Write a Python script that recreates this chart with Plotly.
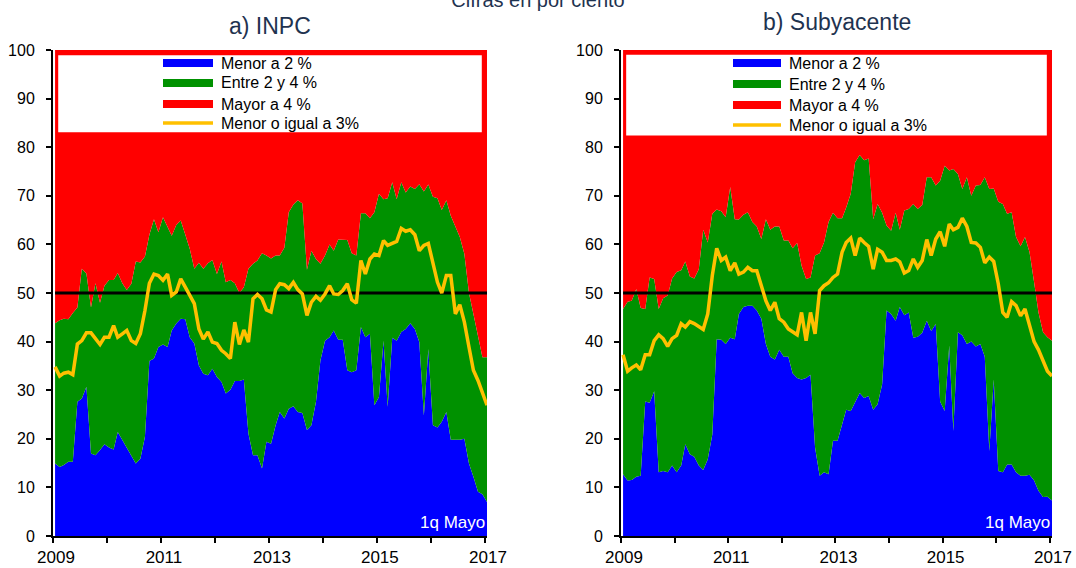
import plotly.graph_objects as go

# ---------------- data (monthly, Jan 2009 - Jan 2017) ----------------
n_months = 97
fechas = [f"{2009 + m // 12}-{m % 12 + 1:02d}-15" for m in range(n_months)]

# a) INPC
inpc_menor2 = [14.9, 14.2, 14.6, 15.3, 15.3, 27.6, 28.3, 30.7, 17.0, 16.6, 17.7, 18.9, 18.2, 17.8, 21.4, 19.7,
               18.0, 16.6, 14.9, 15.9, 20.4, 36.0, 36.5, 38.9, 39.4, 38.9, 42.3, 43.7, 44.7, 44.6, 40.9, 39.6,
               35.1, 33.4, 33.1, 34.4, 32.7, 31.7, 29.3, 30.1, 31.9, 31.9, 32.2, 21.1, 16.6, 16.6, 13.9, 19.4,
               19.0, 22.8, 25.5, 24.2, 26.2, 26.7, 25.5, 25.3, 21.8, 22.8, 27.6, 36.1, 40.2, 40.9, 42.3, 40.4,
               40.4, 34.1, 33.7, 34.1, 43.0, 40.9, 41.6, 26.9, 28.6, 40.2, 26.6, 40.8, 40.2, 42.0, 42.6, 43.8,
               42.6, 39.9, 24.8, 38.5, 22.8, 22.3, 23.5, 25.5, 19.8, 19.8, 19.8, 20.0, 14.9, 12.2, 9.1, 8.6, 7.0]
inpc_hasta4 = [43.8, 44.4, 44.7, 44.6, 45.9, 47.0, 55.0, 54.0, 47.0, 52.0, 48.0, 51.5, 52.7, 52.7, 54.1, 52.0,
               50.6, 51.9, 56.5, 56.3, 57.5, 62.0, 65.2, 62.5, 65.6, 63.4, 61.8, 64.0, 64.9, 62.0, 59.1, 55.0,
               56.2, 55.0, 56.1, 56.8, 53.9, 56.5, 52.2, 52.7, 52.0, 50.0, 51.2, 55.0, 56.0, 56.7, 58.2, 57.7,
               57.1, 57.7, 57.7, 59.3, 66.6, 68.2, 69.1, 68.4, 54.8, 58.7, 57.0, 56.0, 57.7, 60.0, 58.7, 61.0,
               60.9, 60.9, 58.2, 57.7, 66.4, 66.4, 65.4, 66.6, 70.4, 69.3, 69.5, 72.8, 69.3, 72.8, 70.7, 71.9,
               71.4, 72.4, 70.9, 72.3, 69.8, 69.5, 67.1, 69.1, 65.9, 63.5, 61.5, 58.0, 50.0, 45.7, 40.9, 36.8, 36.8]
inpc_hasta3 = [34.8, 32.9, 33.5, 33.7, 33.2, 39.5, 40.2, 41.8, 41.8, 40.6, 39.4, 40.9, 40.9, 43.3, 40.9, 41.6,
               42.3, 40.2, 39.6, 41.6, 46.4, 52.0, 53.9, 53.6, 52.6, 53.9, 49.5, 50.2, 52.9, 51.2, 49.5, 47.8,
               42.6, 40.5, 42.0, 39.9, 39.6, 38.2, 37.5, 36.5, 44.0, 39.4, 42.4, 39.9, 48.8, 49.7, 48.8, 46.5,
               46.1, 50.7, 51.9, 51.7, 50.9, 52.2, 50.7, 49.8, 45.4, 48.1, 49.3, 48.5, 49.8, 51.5, 49.8, 49.7,
               50.5, 51.9, 48.6, 47.9, 56.7, 53.9, 57.0, 58.0, 57.7, 60.8, 59.8, 60.2, 60.6, 63.3, 62.7, 63.0,
               62.0, 58.7, 59.8, 60.2, 56.3, 52.2, 50.0, 53.6, 53.6, 45.7, 47.6, 44.0, 38.9, 34.1, 32.0, 29.6, 26.9]

# b) Subyacente
sub_menor2 = [12.7, 11.4, 11.5, 12.2, 12.4, 27.7, 27.4, 29.8, 13.1, 13.4, 13.1, 14.5, 13.1, 14.5, 18.9, 16.8,
              16.3, 14.5, 13.6, 15.8, 20.9, 40.5, 40.4, 39.5, 40.8, 40.5, 45.7, 47.1, 47.4, 47.4, 46.4, 44.7,
              39.5, 36.9, 36.3, 38.3, 36.9, 36.9, 33.5, 32.5, 32.2, 32.5, 33.2, 18.2, 12.4, 13.1, 12.7, 19.6,
              19.6, 23.0, 26.0, 25.7, 27.4, 29.4, 28.4, 28.8, 26.0, 27.1, 31.2, 46.4, 45.7, 44.3, 47.1, 45.4,
              46.0, 40.8, 41.0, 41.8, 44.3, 42.2, 43.6, 27.7, 25.7, 39.2, 21.6, 41.9, 41.3, 39.5, 40.0, 39.0,
              39.5, 36.9, 17.5, 32.2, 13.4, 13.1, 14.7, 14.7, 13.1, 12.4, 12.4, 12.6, 11.4, 9.3, 8.0, 8.1, 7.3]
sub_hasta4 = [46.7, 48.2, 48.4, 50.8, 46.9, 46.7, 53.2, 52.9, 46.7, 48.9, 49.5, 53.0, 54.3, 54.7, 56.5, 53.4,
              53.0, 54.9, 63.0, 60.4, 66.3, 67.2, 66.8, 65.6, 71.8, 65.2, 65.1, 66.1, 66.6, 64.6, 63.7, 61.1,
              65.2, 63.0, 63.7, 63.7, 60.8, 60.8, 59.2, 60.3, 55.6, 52.9, 53.2, 57.7, 58.2, 60.4, 64.6, 66.5,
              65.4, 65.4, 67.6, 70.4, 76.9, 78.4, 77.3, 77.7, 65.2, 68.3, 66.5, 63.9, 62.8, 66.5, 63.0, 67.0,
              67.3, 68.3, 67.3, 68.1, 73.8, 73.8, 72.1, 73.1, 76.2, 75.2, 75.5, 74.5, 71.4, 73.8, 70.0, 72.1,
              72.2, 73.8, 71.4, 71.5, 68.8, 68.3, 66.3, 66.6, 61.5, 59.6, 61.5, 58.4, 52.2, 46.0, 41.9, 40.9, 40.2]
sub_hasta3 = [37.3, 33.9, 34.6, 35.2, 34.2, 37.3, 37.3, 40.2, 41.4, 40.6, 39.0, 40.6, 41.3, 43.7, 43.0, 44.1,
              43.7, 43.0, 42.5, 45.7, 53.6, 59.2, 56.7, 57.4, 54.6, 56.2, 53.9, 54.3, 55.3, 54.6, 54.6, 51.5,
              48.4, 46.4, 48.1, 44.7, 44.0, 42.6, 42.1, 41.4, 46.0, 40.2, 46.0, 41.6, 50.5, 51.5, 52.1, 53.2,
              53.9, 58.4, 60.4, 61.3, 57.7, 61.3, 60.4, 59.6, 54.9, 59.0, 58.4, 56.7, 56.7, 57.0, 56.4, 54.1,
              54.6, 57.0, 55.3, 56.7, 61.0, 57.7, 61.1, 62.6, 59.6, 64.2, 63.0, 63.5, 65.4, 63.7, 60.4, 60.3,
              59.4, 56.2, 57.4, 56.5, 51.9, 46.0, 45.0, 48.2, 47.4, 45.3, 46.7, 43.0, 40.0, 38.3, 35.9, 33.9, 32.9]

total_pct = 100
linea_ref = 50

etiquetas = ["Menor a 2 %", "Entre 2 y 4 %", "Mayor a 4 %", "Menor o igual a 3%"]
titulos = ["a) INPC", "b) Subyacente"]
anios = list(range(2009, 2018))
tick_text = [str(a) if a % 2 == 1 else "" for a in anios]

AZUL, VERDE, ROJO, AMARILLO = "#0000ff", "#009100", "#ff0000", "#ffc000"
colores = [AZUL, VERDE, ROJO, AMARILLO]
FONT = "Liberation Sans, Arial, sans-serif"
NAVY = "#1f3350"

W, H = 1076, 568
ml, mr, mt, mb = 53, 24, 50, 32
pw, ph = W - ml - mr, H - mt - mb


def pxx(p):  # pixel x -> paper x
    return (p - ml) / pw


def pxy(p):  # pixel y (from top) -> paper y
    return (H - mb - p) / ph


fig = go.Figure()

paneles = [(inpc_menor2, inpc_hasta4, inpc_hasta3, "x", "y"),
           (sub_menor2, sub_hasta4, sub_hasta3, "x2", "y2")]

for menor2, hasta4, hasta3, xa, ya in paneles:
    fig.add_trace(go.Scatter(x=fechas, y=menor2, name=etiquetas[0], mode="lines", line=dict(width=0, color=AZUL),
                             fill="tozeroy", fillcolor=AZUL, xaxis=xa, yaxis=ya, showlegend=False))
    fig.add_trace(go.Scatter(x=fechas, y=hasta4, name=etiquetas[1], mode="lines", line=dict(width=0, color=VERDE),
                             fill="tonexty", fillcolor=VERDE, xaxis=xa, yaxis=ya, showlegend=False))
    fig.add_trace(go.Scatter(x=fechas, y=[total_pct] * len(fechas), name=etiquetas[2], mode="lines",
                             line=dict(width=0, color=ROJO), fill="tonexty", fillcolor=ROJO,
                             xaxis=xa, yaxis=ya, showlegend=False))
    fig.add_trace(go.Scatter(x=[fechas[0], fechas[-1]], y=[linea_ref, linea_ref], mode="lines",
                             line=dict(width=3, color="black"), showlegend=False, hoverinfo="skip",
                             xaxis=xa, yaxis=ya))
    fig.add_trace(go.Scatter(x=fechas, y=hasta3, name=etiquetas[3], mode="lines",
                             line=dict(width=3.5, color=AMARILLO), xaxis=xa, yaxis=ya, showlegend=False))

xcommon = dict(type="date", range=["2009-01-01", "2017-01-15"],
               tickvals=[f"{a}-01-01" for a in anios], ticktext=tick_text,
               ticks="outside", ticklen=5, tickwidth=1.5, tickcolor="black",
               showline=True, linecolor="black", linewidth=2, showgrid=False, zeroline=False,
               tickfont=dict(family=FONT, size=17, color="black"), fixedrange=True, automargin=False,
               ticklabelshift=3)
ycommon = dict(range=[0, 100], dtick=10, tick0=0, ticks="outside", ticklen=5, tickwidth=1.5,
               tickcolor="black", showline=True, linecolor="black", linewidth=2, showgrid=False,
               zeroline=False, tickfont=dict(family=FONT, size=16, color="black"), fixedrange=True,
               automargin=False, ticklabelstandoff=8)

# ---- legend boxes (white) and manual legend entries for each panel ----
shapes = [
    dict(type="rect", xref="x domain", yref="y", x0=0.012, x1=0.988, y0=83.1, y1=98.9,
         fillcolor="white", line=dict(width=0), layer="above"),
    dict(type="rect", xref="x2 domain", yref="y2", x0=0.012, x1=0.988, y0=82.4, y1=99.0,
         fillcolor="white", line=dict(width=0), layer="above"),
]
annotations = []
leg_specs = [(163, 213, 219, [63, 83, 104, 123]), (733, 781, 787, [63, 84, 105, 125])]
for sw0, sw1, tx, filas in leg_specs:
    for i, (lab, col, fy) in enumerate(zip(etiquetas, colores, filas)):
        if i < 3:
            shapes.append(dict(type="rect", xref="paper", yref="paper", x0=pxx(sw0), x1=pxx(sw1),
                               y0=pxy(fy + 4), y1=pxy(fy - 4), fillcolor=col, line=dict(width=0),
                               layer="above"))
        else:
            shapes.append(dict(type="line", xref="paper", yref="paper", x0=pxx(sw0), x1=pxx(sw1),
                               y0=pxy(fy), y1=pxy(fy), line=dict(color=col, width=3.5), layer="above"))
        annotations.append(dict(text=lab, xref="paper", yref="paper", x=pxx(tx), y=pxy(fy),
                                xanchor="left", yanchor="middle", showarrow=False,
                                font=dict(family=FONT, size=16, color="black")))

annotations += [
    dict(text=titulos[0], xref="x domain", yref="paper", x=0.5, y=1, yshift=9, yanchor="bottom",
         showarrow=False, font=dict(family=FONT, size=23, color=NAVY)),
    dict(text=titulos[1], xref="x2 domain", yref="paper", x=0.5, y=1, yshift=13, yanchor="bottom",
         showarrow=False, font=dict(family=FONT, size=23, color=NAVY)),
    dict(text="1q Mayo", xref="x domain", yref="y domain", x=1.0, y=0.004, xanchor="right",
         yanchor="bottom", showarrow=False, font=dict(family=FONT, size=17, color="white")),
    dict(text="1q Mayo", xref="x2 domain", yref="y2 domain", x=1.0, y=0.004, xanchor="right",
         yanchor="bottom", showarrow=False, font=dict(family=FONT, size=17, color="white")),
]

fig.update_layout(
    width=W, height=H,
    margin=dict(l=ml, r=mr, t=mt, b=mb, autoexpand=False),
    paper_bgcolor="white", plot_bgcolor="white",
    showlegend=False,
    xaxis=dict(domain=[0, pxx(487)], anchor="y", **xcommon),
    yaxis=dict(domain=[0, 1], anchor="x", **ycommon),
    xaxis2=dict(domain=[pxx(621), 1], anchor="y2", **xcommon),
    yaxis2=dict(domain=[0, 1], anchor="x2", **ycommon),
    title=dict(text="Cifras en por ciento", x=0.5, xanchor="center", y=1.0, yanchor="middle",
               font=dict(family=FONT, size=20, color=NAVY), automargin=False),
    shapes=shapes,
    annotations=annotations,
)

# remove the default page margin so the 1076x568 figure fills the window exactly
fig.write_html("out.html", config={"displayModeBar": False},
               post_script="document.body.style.margin='0';document.body.style.overflow='hidden';")
